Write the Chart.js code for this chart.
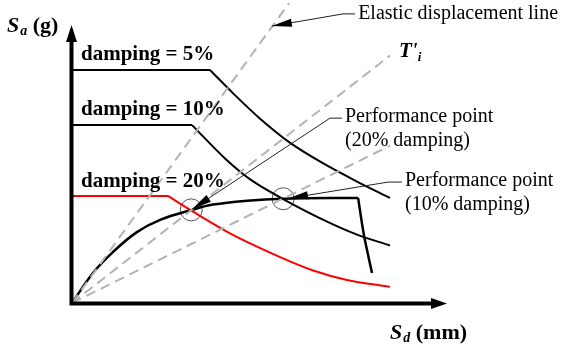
<!DOCTYPE html>
<html>
<head>
<meta charset="utf-8">
<script src="https://cdn.jsdelivr.net/npm/chart.js@4/dist/chart.umd.min.js"></script>
<style>
  html, body { margin: 0; padding: 0; background: #fff; }
  canvas { display: block; }
</style>
</head>
<body>
<canvas id="c" width="565" height="348"></canvas>
<script>
// Capacity spectrum method: demand spectra (ADRS) for three damping levels,
// the capacity curve, and the secant period lines. Sd in mm, Sa in g.

// 5 % damping: plateau and descending branch
const plateau5 = [{x: 0, y: 0.838}, {x: 36.8, y: 0.838}];
const branch5  = [{x: 36.8, y: 0.838}, {x: 42.9, y: 0.755}, {x: 50.0, y: 0.665},
                  {x: 58.0, y: 0.578}, {x: 66.9, y: 0.503}, {x: 76.0, y: 0.437},
                  {x: 84.8, y: 0.378}];

// 10 % damping
const plateau10 = [{x: 0, y: 0.640}, {x: 32.0, y: 0.640}];
const branch10  = [{x: 32.0, y: 0.640}, {x: 40.8, y: 0.520}, {x: 48.0, y: 0.440},
                   {x: 56.3, y: 0.374}, {x: 66.9, y: 0.300}, {x: 76.0, y: 0.246},
                   {x: 84.8, y: 0.207}];

// 20 % damping
const plateau20 = [{x: 0, y: 0.385}, {x: 25.6, y: 0.385}];
const branch20  = [{x: 25.6, y: 0.385}, {x: 31.5, y: 0.335}, {x: 42.9, y: 0.245},
                   {x: 55.5, y: 0.165}, {x: 64.3, y: 0.117}, {x: 73.3, y: 0.083},
                   {x: 84.8, y: 0.058}];

// Capacity curve: smooth rising part, then the softening drop
const capacityRise = [{x: 0, y: 0}, {x: 5.6, y: 0.108}, {x: 10.9, y: 0.183},
                      {x: 17.3, y: 0.255}, {x: 23.5, y: 0.299}, {x: 32.0, y: 0.335},
                      {x: 37.6, y: 0.354}, {x: 46.7, y: 0.368}, {x: 56.3, y: 0.375},
                      {x: 76.3, y: 0.378}];
const capacityDrop = [{x: 76.3, y: 0.378}, {x: 77.3, y: 0.288}, {x: 78.1, y: 0.227},
                      {x: 80.0, y: 0.108}];

// Period lines through the origin
const elasticLine = [{x: 0, y: 0}, {x: 57.9, y: 1.079}];
const secantTi    = [{x: 0, y: 0}, {x: 84.8, y: 0.890}];
const secantPP10  = [{x: 0, y: 0}, {x: 84.8, y: 0.566}];

// Performance points (20 % and 10 % damping)
const perfPoints = [{x: 31.8, y: 0.335}, {x: 56.3, y: 0.375}];

const SERIF = "'Liberation Serif', 'Times New Roman', serif";

function lineSet(data, color, width, extra) {
  return Object.assign({
    data, showLine: true, borderColor: color, borderWidth: width,
    pointRadius: 0, fill: false, tension: 0
  }, extra || {});
}

const dashed = { borderDash: [10, 6], borderCapStyle: 'butt' };

function arrowHead(ctx, fx, fy, tx, ty, len, half) {
  const a = Math.atan2(ty - fy, tx - fx);
  ctx.beginPath();
  ctx.moveTo(tx, ty);
  ctx.lineTo(tx - len * Math.cos(a) + half * Math.sin(a), ty - len * Math.sin(a) - half * Math.cos(a));
  ctx.lineTo(tx - len * Math.cos(a) - half * Math.sin(a), ty - len * Math.sin(a) + half * Math.cos(a));
  ctx.closePath();
  ctx.fill();
}

// Axes with arrows, labels and leader annotations
const overlay = {
  id: 'overlay',
  afterDatasetsDraw(chart) {
    const ctx = chart.ctx;
    const xs = chart.scales.x, ys = chart.scales.y;
    const X = v => xs.getPixelForValue(v);
    const Y = v => ys.getPixelForValue(v);
    const x0 = X(0) - 0.5, y0 = Y(0) + 0.5;

    ctx.save();
    ctx.fillStyle = '#000';
    ctx.strokeStyle = '#000';

    // axes
    ctx.lineWidth = 4;
    ctx.beginPath();
    ctx.moveTo(x0, y0 + 2);
    ctx.lineTo(x0, Y(1) + 14);
    ctx.moveTo(x0 - 2, y0);
    ctx.lineTo(X(100) - 14, y0);
    ctx.stroke();
    arrowHead(ctx, x0, y0, x0, Y(1), 17, 5.5);
    arrowHead(ctx, x0, y0, X(100), y0, 16, 5.5);

    // axis titles
    ctx.textBaseline = 'alphabetic';
    ctx.textAlign = 'left';
    let px = 7, py = 32;
    ctx.font = `italic bold 22px ${SERIF}`;
    ctx.fillText('S', px, py); px += ctx.measureText('S').width + 1;
    ctx.font = `italic bold 14px ${SERIF}`;
    ctx.fillText('a', px, py + 3); px += ctx.measureText('a').width;
    ctx.font = `bold 22px ${SERIF}`;
    ctx.fillText(' (g)', px, py);

    px = 390; py = 339;
    ctx.font = `italic bold 22px ${SERIF}`;
    ctx.fillText('S', px, py); px += ctx.measureText('S').width + 1;
    ctx.font = `italic bold 14px ${SERIF}`;
    ctx.fillText('d', px, py + 3); px += ctx.measureText('d').width;
    ctx.font = `bold 22px ${SERIF}`;
    ctx.fillText(' (mm)', px, py);

    // damping labels
    ctx.font = `bold 21px ${SERIF}`;
    ctx.textBaseline = 'middle';
    ctx.fillText('damping = 5%',  X(2.4), Y(0.892));
    ctx.fillText('damping = 10%', X(2.4), Y(0.694));
    ctx.fillText('damping = 20%', X(2.4), Y(0.435));

    // T'i label
    px = X(87.2); py = Y(0.910) + 7;
    ctx.textBaseline = 'alphabetic';
    ctx.font = `italic bold 21px ${SERIF}`;
    ctx.fillText("T'", px, py); px += ctx.measureText("T'").width;
    ctx.font = `italic bold 13px ${SERIF}`;
    ctx.fillText('i', px, py + 4);

    // leader annotations
    ctx.lineWidth = 1;
    ctx.strokeStyle = '#222';
    ctx.font = `20px ${SERIF}`;
    ctx.textBaseline = 'middle';
    const leaders = [
      { text: ['Elastic displacement line'], tx: 76.3, ty: 1.040, hx0: 75.5, hx1: 72.3, hy: 1.040,
        tip: {x: 53.3, y: 0.996} },
      { text: ['Performance point', '(20% damping)'], tx: 72.8, ty: 0.669, hx0: 72.0, hx1: 68.8, hy: 0.665,
        tip: {x: 32.0, y: 0.337} },
      { text: ['Performance point', '(10% damping)'], tx: 88.8, ty: 0.439, hx0: 88.0, hx1: 84.3, hy: 0.435,
        tip: {x: 57.6, y: 0.376} }
    ];
    leaders.forEach(l => {
      l.text.forEach((t, i) => ctx.fillText(t, X(l.tx), Y(l.ty) + i * 24));
      const tipX = X(l.tip.x), tipY = Y(l.tip.y);
      ctx.beginPath();
      ctx.moveTo(X(l.hx0), Y(l.hy));
      ctx.lineTo(X(l.hx1), Y(l.hy));
      ctx.lineTo(tipX, tipY);
      ctx.stroke();
      arrowHead(ctx, X(l.hx1), Y(l.hy), tipX, tipY, 20, 4);
    });
    ctx.restore();
  }
};

new Chart(document.getElementById('c'), {
  type: 'scatter',
  data: {
    datasets: [
      lineSet(elasticLine, '#b3b3b3', 2, Object.assign({ clip: false }, dashed)),
      lineSet(secantTi,    '#b3b3b3', 2, dashed),
      lineSet(secantPP10,  '#b3b3b3', 2, dashed),
      lineSet(plateau5,  '#000', 2),
      lineSet(branch5,   '#000', 2, { tension: 0.3 }),
      lineSet(plateau10, '#000', 2),
      lineSet(branch10,  '#000', 2, { tension: 0.3 }),
      lineSet(plateau20, '#ff0000', 2),
      lineSet(branch20,  '#ff0000', 2, { tension: 0.3 }),
      lineSet(capacityRise, '#000', 2.5, { tension: 0.4 }),
      lineSet(capacityDrop, '#000', 2.5, { tension: 0.15 }),
      { data: perfPoints, pointRadius: 11, pointBorderWidth: 1, pointBorderColor: '#555',
        pointBackgroundColor: 'rgba(0,0,0,0)', showLine: false }
    ]
  },
  options: {
    responsive: false,
    devicePixelRatio: 1,
    animation: false,
    layout: { padding: { left: 72, top: 25, right: 118, bottom: 45 } },
    scales: {
      x: { type: 'linear', min: 0, max: 100, display: false },
      y: { type: 'linear', min: 0, max: 1, display: false }
    },
    plugins: { legend: { display: false }, tooltip: { enabled: false } }
  },
  plugins: [overlay]
});
</script>
</body>
</html>
